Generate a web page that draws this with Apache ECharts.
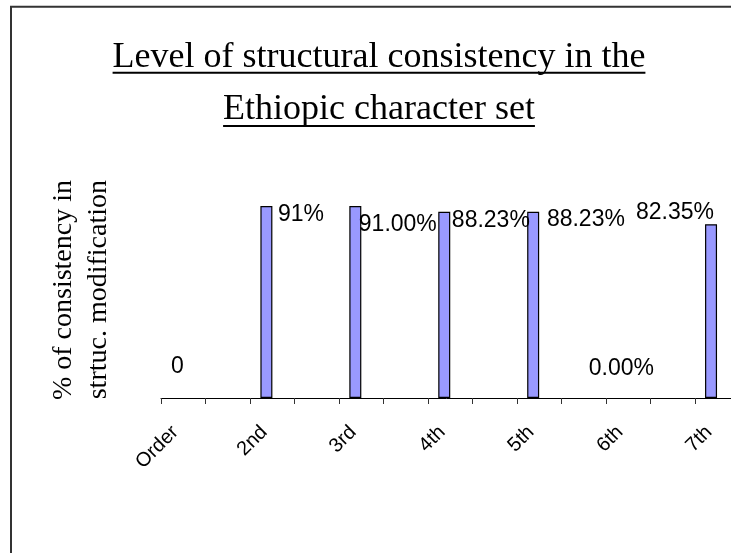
<!DOCTYPE html>
<html>
<head>
<meta charset="utf-8">
<script src="https://cdn.jsdelivr.net/npm/echarts@6/dist/echarts.min.js"></script>
<style>
  html, body { margin: 0; padding: 0; background: #fff; }
  #chart { width: 731px; height: 553px; }
</style>
</head>
<body>
<div id="chart"></div>
<script>
// ---- data ----
const categories = ['Order', '2nd', '3rd', '4th', '5th', '6th', '7th'];
const values = [0, 91, 91, 88.23, 88.23, 0, 82.35];
const valueLabels = ['0', '91%', '91.00%', '88.23%', '88.23%', '0.00%', '82.35%'];
const titleLines = ['Level of structural consistency in the', 'Ethiopic character set'];
const yAxisTitle = ['% of consistency in', 'strtuc. modification'];
const yMin = 0, yMax = 100;
const minorTickCount = 14;

// ---- styling (label placement as in the source picture) ----
const labelOffsets = [[0, -19], [34.5, 21], [42.5, 30.7], [46.6, 20.5], [52.7, 20], [-0.7, -17], [-36, 0.5]];

const serif = '"Liberation Serif", "Times New Roman", serif';
const sans = '"Liberation Sans", Arial, sans-serif';

const titleSize = 36;
const titleCx = 379;
const titleMid = [57.9, 109.6];
const underlineY = [72.7, 126];

const mctx = document.createElement('canvas').getContext('2d');
mctx.font = titleSize + 'px ' + serif;

const graphics = [
  { type: 'rect', shape: { x: 11, y: 6.7, width: 900, height: 900 },
    style: { fill: 'none', stroke: '#333', lineWidth: 2 }, silent: true }
];
titleLines.forEach((t, i) => {
  const w = mctx.measureText(t).width;
  graphics.push({
    type: 'text', x: titleCx, y: titleMid[i],
    style: { text: t, font: titleSize + 'px ' + serif, fill: '#000',
             align: 'center', verticalAlign: 'middle' }
  });
  graphics.push({
    type: 'line', shape: { x1: titleCx - w / 2, y1: underlineY[i], x2: titleCx + w / 2, y2: underlineY[i] },
    style: { stroke: '#000', lineWidth: 2 }
  });
});
graphics.push({
  type: 'text', x: 81, y: 180, rotation: Math.PI / 2,
  style: { text: yAxisTitle.join('\n'), font: '28px ' + serif, fill: '#000',
           align: 'right', verticalAlign: 'middle', lineHeight: 35 }
});

const chart = echarts.init(document.getElementById('chart'), null, { renderer: 'canvas' });
chart.setOption({
  backgroundColor: '#fff',
  animation: false,
  graphic: graphics,
  grid: [
    { left: 133, right: -24.5, top: 187, bottom: 155, outerBoundsMode: 'none' },
    { left: 161, right: -53, top: 187, bottom: 155, outerBoundsMode: 'none' }
  ],
  xAxis: [
    {
      type: 'category', gridIndex: 0, data: categories, boundaryGap: true,
      axisLine: { show: false }, axisTick: { show: false },
      axisLabel: { rotate: 45, margin: 29, fontSize: 20, fontFamily: sans, color: '#000', interval: 0,
                   padding: [0, 3, 0, 0] }
    },
    {
      type: 'value', gridIndex: 1, min: 0, max: minorTickCount, interval: 1,
      axisLine: { show: true, lineStyle: { color: '#000', width: 1 } },
      axisTick: { show: true, length: 6, lineStyle: { color: '#333', width: 1 } },
      axisLabel: { show: false }, splitLine: { show: false }
    }
  ],
  yAxis: [
    { type: 'value', gridIndex: 0, min: yMin, max: yMax, show: false, splitLine: { show: false } },
    { type: 'value', gridIndex: 1, min: yMin, max: yMax, show: false, splitLine: { show: false } }
  ],
  series: [{
    type: 'bar', xAxisIndex: 0, yAxisIndex: 0, barWidth: 12,
    itemStyle: { color: '#9999FF', borderColor: '#000', borderWidth: 1.2 },
    label: { show: true, position: 'top', distance: 0, fontSize: 23, lineHeight: 24,
             fontFamily: sans, color: '#000' },
    data: values.map((v, i) => ({
      value: v,
      itemStyle: v === 0 ? { borderWidth: 0 } : undefined,
      label: { formatter: valueLabels[i], offset: labelOffsets[i] }
    }))
  }]
});
</script>
</body>
</html>
